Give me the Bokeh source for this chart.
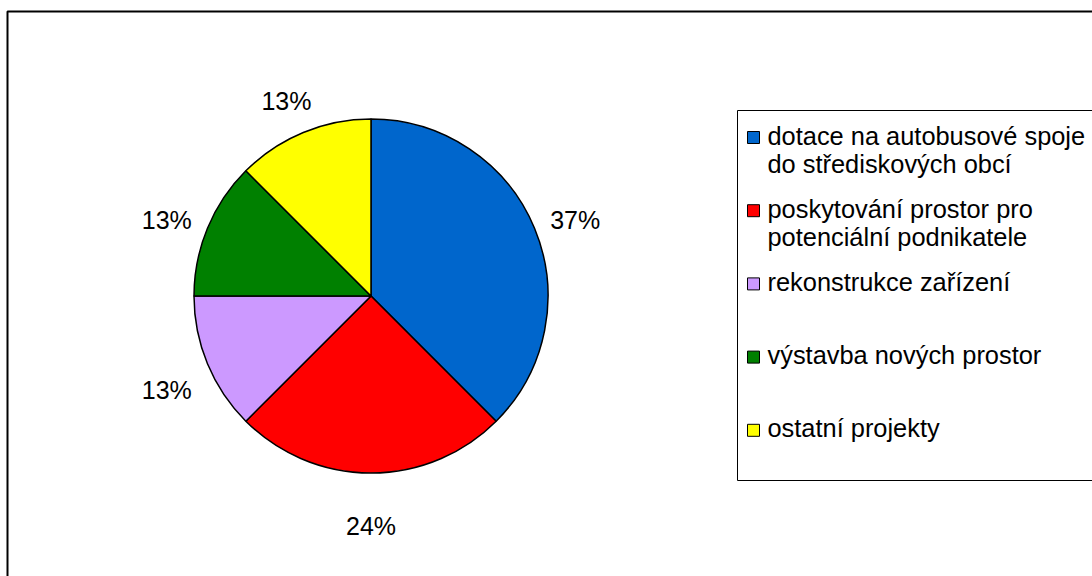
import math
from bokeh.plotting import figure
from bokeh.models import Range1d, ColumnDataSource
from bokeh.core.properties import value
from bokeh.embed import file_html
from bokeh.resources import INLINE

# ---- data ----
categories = [
    ["dotace na autobusové spoje", "do střediskových obcí"],
    ["poskytování prostor pro", "potenciální podnikatele"],
    ["rekonstrukce zařízení"],
    ["výstavba nových prostor"],
    ["ostatní projekty"],
]
shares = [37.5, 25.0, 12.5, 12.5, 12.5]          # slice sizes as drawn
pct_labels = ["37%", "24%", "13%", "13%", "13%"]  # labels as printed
colors = ["#0066CC", "#FF0000", "#CC99FF", "#008000", "#FFFF00"]

# ---- layout (canvas pixel space) ----
W, H = 1092, 576
FONT = "Liberation Sans"
cx, cy, R = 370.5, H - 295.5, 177
label_r = 221
label_drop = 9

p = figure(width=W, height=H, output_backend="svg", toolbar_location=None,
           x_range=Range1d(0, W), y_range=Range1d(0, H), min_border=0)
p.axis.visible = False
p.grid.visible = False
p.outline_line_color = None
p.background_fill_color = "white"
p.border_fill_color = "white"

# outer chart-area frame (right/bottom edges fall outside the window)
p.quad(left=[7], right=[W + 50], top=[H - 11], bottom=[-50],
       fill_color=None, line_color="black", line_width=2)

# pie
total = sum(shares)
starts, ends, mids = [], [], []
acc = 0.0
for s in shares:
    a0 = math.pi / 2 - 2 * math.pi * acc / total
    acc += s
    a1 = math.pi / 2 - 2 * math.pi * acc / total
    starts.append(a0)
    ends.append(a1)
    mids.append((a0 + a1) / 2)

src = ColumnDataSource(dict(start=starts, end=ends, color=colors))
p.wedge(x=cx, y=cy, radius=R, start_angle="start", end_angle="end",
        direction="clock", fill_color="color", line_color="black",
        line_width=1.5, source=src)

# percentage labels
lx = [cx + label_r * math.cos(m) for m in mids]
ly = [cy + label_r * math.sin(m) - label_drop for m in mids]
p.text(x=lx, y=ly, text=pct_labels, text_align="center",
       text_baseline="middle", text_font=value(FONT), text_font_size="25px",
       text_color="black")

# legend box
lg_left, lg_top, lg_bottom = 737, H - 110, H - 480
p.quad(left=[lg_left], right=[W + 50], top=[lg_top], bottom=[lg_bottom],
       fill_color="white", line_color="black", line_width=1)

row0, row_step, line_step = H - 135, 73.2, 28.5
sq_x, sq_size, txt_x = 753, 12, 767
sx, sy, tx, ty, tt = [], [], [], [], []
for i, cat in enumerate(categories):
    y0 = row0 - i * row_step
    sx.append(sq_x)
    sy.append(y0 - 2)
    for j, line in enumerate(cat):
        tx.append(txt_x)
        ty.append(y0 - j * line_step)
        tt.append(line)

p.rect(x=sx, y=sy, width=sq_size, height=sq_size, fill_color=colors,
       line_color="black", line_width=1)
p.text(x=tx, y=ty, text=tt, text_align="left", text_baseline="middle",
       text_font=value(FONT), text_font_size="25.4px", text_color="black")

open("out.html", "w").write(file_html(p, INLINE))
